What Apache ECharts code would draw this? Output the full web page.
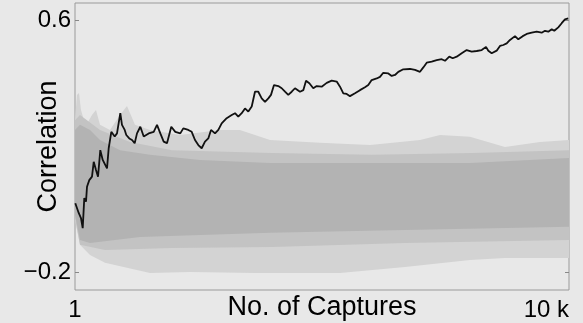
<!DOCTYPE html>
<html><head><meta charset="utf-8">
<script src="https://cdn.jsdelivr.net/npm/echarts@6/dist/echarts.min.js"></script>
<style>html,body{margin:0;padding:0;background:#e8e8e8}#c{width:583px;height:323px}</style>
</head><body><div id="c"></div><script>
// ---- data ----
const xTickValues = [1, 10000];
const xTickLabels = ['1', '10 k'];
const yTickValues = [-0.2, 0.6];
const yTickLabels = ['\u22120.2', '0.6'];

// highlighted (black) series
const blackX = [7,76,122,157,189,224,244,290,345,380,426,467,513,562,602,649,683,736,805,851,918,952,1007,1039,1100,1155,1209,1256,1323,1392,1493,1594,1661,1728,1796,1863,1950,2031,2132,2193,2294,2363,2430,2497,2565,2632,2699,2754,2835,2902,2970,3071,3173,3240,3306,3375,3442,3509,3578,3644,3711,3780,3847,3914,3968,4029,4116,4185,4252,4318,4387,4454,4555,4622,4677,4744,4824,4893,4994,5096,5197,5298,5365,5432,5500,5567,5668,5769,5870,5937,6006,6108,6174,6241,6343,6411,6478,6545,6646,6680,6782,6883,6984,7051,7120,7221,7322,7423,7490,7577,7646,7727,7828,7929,8030,8132,8233,8320,8367,8435,8536,8603,8670,8739,8806,8907,8974,9063,9144,9245,9346,9447,9514,9581,9650,9702,9783,9852,9918,9985];
const blackY = [0.020,-0.011,-0.027,-0.059,0.036,0.025,0.072,0.093,0.104,0.151,0.125,0.104,0.188,0.157,0.151,0.130,0.194,0.246,0.231,0.241,0.305,0.268,0.252,0.236,0.225,0.220,0.210,0.241,0.262,0.231,0.241,0.246,0.268,0.241,0.215,0.210,0.262,0.246,0.241,0.257,0.252,0.246,0.220,0.204,0.194,0.215,0.225,0.252,0.241,0.252,0.273,0.289,0.299,0.305,0.294,0.305,0.320,0.310,0.326,0.373,0.373,0.352,0.341,0.352,0.363,0.394,0.391,0.384,0.373,0.363,0.373,0.384,0.373,0.378,0.408,0.400,0.384,0.391,0.389,0.401,0.408,0.405,0.389,0.368,0.366,0.359,0.368,0.378,0.387,0.394,0.410,0.415,0.420,0.433,0.431,0.423,0.426,0.436,0.444,0.442,0.445,0.442,0.436,0.450,0.465,0.468,0.473,0.476,0.471,0.484,0.479,0.484,0.495,0.505,0.500,0.502,0.505,0.515,0.503,0.495,0.503,0.518,0.521,0.526,0.537,0.549,0.539,0.549,0.556,0.560,0.563,0.560,0.566,0.563,0.571,0.566,0.577,0.590,0.602,0.605];

// grey null-distribution band: outer fringe, mid and dense envelopes
const outerUpX = [1,41,82,122,183,264,345,426,507,709,912,1053,1215,1519,2126,2936,3341,3948,4960,5972,6984,7389,7996,8704,9413,10000];
const outerUpY = [0.283,0.363,0.369,0.315,0.283,0.277,0.299,0.315,0.268,0.252,0.299,0.328,0.268,0.252,0.236,0.252,0.252,0.220,0.211,0.204,0.220,0.236,0.230,0.198,0.214,0.220];
const outerLoX = [1,102,305,608,1519,2329,3644,5365,6680,7996,8704,10000];
const outerLoY = [-0.033,-0.112,-0.144,-0.169,-0.201,-0.198,-0.201,-0.201,-0.182,-0.160,-0.154,-0.154];
const midUpX = [1,102,507,1114,1964,3988,6012,8037,10000];
const midUpY = [0.283,0.299,0.252,0.214,0.188,0.179,0.173,0.179,0.188];
const midLoX = [1,102,608,1964,3988,6680,10000];
const midLoY = [-0.027,-0.112,-0.128,-0.122,-0.119,-0.106,-0.097];
const denseUpX = [1,102,305,507,912,1519,2531,3948,5972,7996,10000];
const denseUpY = [0.252,0.268,0.252,0.220,0.188,0.173,0.157,0.147,0.147,0.147,0.163];
const denseLoX = [1,102,305,1317,3948,6680,10000];
const denseLoY = [-0.017,-0.097,-0.106,-0.087,-0.074,-0.065,-0.055];

const FONT = "'Liberation Sans', Arial, Helvetica, sans-serif";
const zip = (xs, ys) => xs.map((x, i) => [x, ys[i]]);

function bandSeries(upX, upY, loX, loY, color) {
  return {
    type: 'custom',
    silent: true,
    clip: true,
    data: zip(upX, upY),
    encode: { x: 0, y: 1 },
    renderItem: function (params, api) {
      if (params.dataIndex !== 0) return null;
      const pts = [];
      for (let i = 0; i < upX.length; i++) pts.push(api.coord([upX[i], upY[i]]));
      for (let i = loX.length - 1; i >= 0; i--) pts.push(api.coord([loX[i], loY[i]]));
      return { type: 'polygon', shape: { points: pts }, style: { fill: color } };
    }
  };
}

const chart = echarts.init(document.getElementById('c'), null, { renderer: 'canvas' });
chart.setOption({
  backgroundColor: '#e8e8e8',
  animation: false,
  textStyle: { fontFamily: FONT },
  grid: { left: 75, top: 3, right: 14, bottom: 33, show: true, borderColor: '#9a9a9a', borderWidth: 1, backgroundColor: 'transparent', containLabel: false, outerBoundsMode: 'none' },
  xAxis: {
    type: 'value', min: 1, max: 10000,
    axisLine: { show: false }, splitLine: { show: false },
    axisTick: { show: false },
    axisLabel: {
      customValues: xTickValues,
      formatter: v => xTickLabels[xTickValues.indexOf(v)] ?? '',
      fontSize: 24, color: '#000', margin: 8, fontFamily: FONT,
      alignMaxLabel: 'right'
    },
    name: 'No. of Captures', nameLocation: 'middle', nameGap: 4, nameMoveOverlap: false,
    nameTextStyle: { fontSize: 27, color: '#000', fontFamily: FONT, verticalAlign: 'top' }
  },
  yAxis: [{
    type: 'value', min: -0.255, max: 0.654,
    axisLine: { show: false }, splitLine: { show: false },
    axisTick: { show: true, inside: true, length: 4, customValues: yTickValues, lineStyle: { color: '#888' } },
    axisLabel: {
      customValues: yTickValues,
      formatter: v => yTickLabels[yTickValues.indexOf(v)] ?? '',
      fontSize: 24, color: '#000', margin: 4, fontFamily: FONT
    },
    name: 'Correlation', nameLocation: 'middle', nameGap: 13, nameMoveOverlap: false,
    nameTextStyle: { fontSize: 27, color: '#000', fontFamily: FONT }
  }, {
    type: 'value', min: -0.255, max: 0.654, position: 'right',
    axisLine: { show: false }, splitLine: { show: false },
    axisTick: { show: true, inside: true, length: 4, customValues: yTickValues, lineStyle: { color: '#888' } },
    axisLabel: { show: false }
  }],
  series: [
    bandSeries(outerUpX, outerUpY, outerLoX, outerLoY, '#d3d3d3'),
    bandSeries(midUpX, midUpY, midLoX, midLoY, '#c3c3c3'),
    bandSeries(denseUpX, denseUpY, denseLoX, denseLoY, '#b3b3b3'),
    {
      type: 'line', data: zip(blackX, blackY), showSymbol: false, silent: true,
      lineStyle: { color: '#111', width: 1.8 }, z: 5, clip: true
    }
  ]
});
</script></body></html>
